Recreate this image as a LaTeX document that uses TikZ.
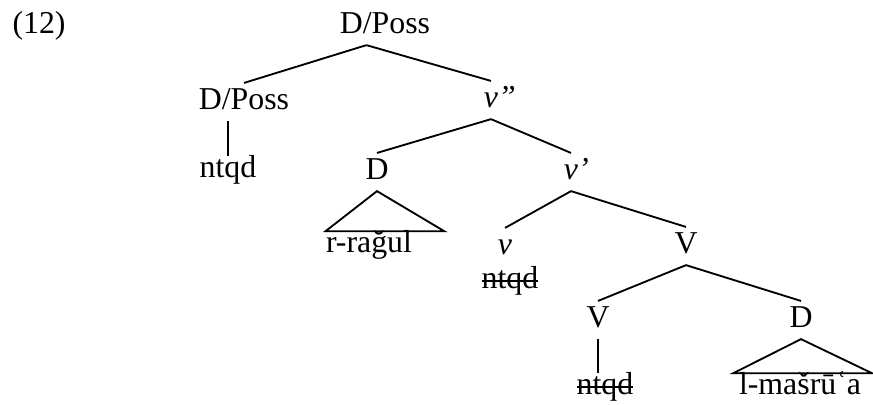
\documentclass[tikz,border=0pt]{standalone}
\usepackage{fontspec}
\setmainfont{Liberation Serif}
\usepackage{tikz}

\newcommand{\strk}[1]{\sbox0{#1}\rlap{\rule[0.22em]{\wd0}{0.6pt}}\usebox0}

\tikzset{
  cat/.style={anchor=base, inner xsep=0pt, inner ysep=3pt, text height=7pt, text depth=1pt},
  leaf/.style={anchor=base, inner xsep=0pt, inner ysep=3pt, text height=5pt, text depth=1pt},
  branch/.style={line width=0.7pt},
}

\begin{document}
\begin{tikzpicture}[x=0.377pt, y=-0.377pt, font=\fontsize{12}{14}\selectfont]
  \useasboundingbox (0,0) rectangle (873,405);

  \node[anchor=base west, inner sep=0pt] (ex) at (12,34) {(12)};

  \node[cat] (dp) at (385,34) {D/Poss};
  \node[cat] (dpa) at (244,110) {D/Poss};
  \node[cat] (vpp) at (491,108) {\textit{v}\rlap{\textit{''}}};
  \node[leaf] (nt1) at (228,178) {ntqd};
  \node[cat] (d1) at (377,180) {D};
  \node[cat] (vp) at (571,180) {\textit{v}\rlap{\textit{'}}};
  \node[leaf] (rr) at (369,253) {r-rağul};
  \node[cat] (vv) at (505,255) {\textit{v}};
  \node[leaf] (nt2) at (510,289) {\strk{ntqd}};
  \node[cat] (V1) at (686,254) {V};
  \node[cat] (V2) at (598,328) {V};
  \node[cat] (d2) at (801,328) {D};
  \node[leaf] (nt3) at (605,395) {\strk{ntqd}};
  \node[leaf] (ms) at (800,395) {l-mašrūʿa};

  \draw[branch] ([xshift=-7pt]dp.south) -- (dpa.north);
  \draw[branch] ([xshift=-7pt]dp.south) -- (vpp.north);
  \draw[branch] (dpa.south -| nt1.north) -- (nt1.north);
  \draw[branch] (vpp.south) -- (d1.north);
  \draw[branch] (vpp.south) -- (vp.north);
  \draw[branch] (d1.south) -- (rr.north west) -- ([xshift=12pt]rr.north east) -- cycle;
  \draw[branch] (vp.south) -- (vv.north);
  \draw[branch] (vp.south) -- (V1.north);
  \draw[branch] (V1.south) -- (V2.north);
  \draw[branch] (V1.south) -- (d2.north);
  \draw[branch] (V2.south) -- (V2.south |- nt3.north);
  \draw[branch] (d2.south) -- ([xshift=-2pt]ms.north west) -- ([xshift=4pt]ms.north east) -- cycle;
\end{tikzpicture}
\end{document}
